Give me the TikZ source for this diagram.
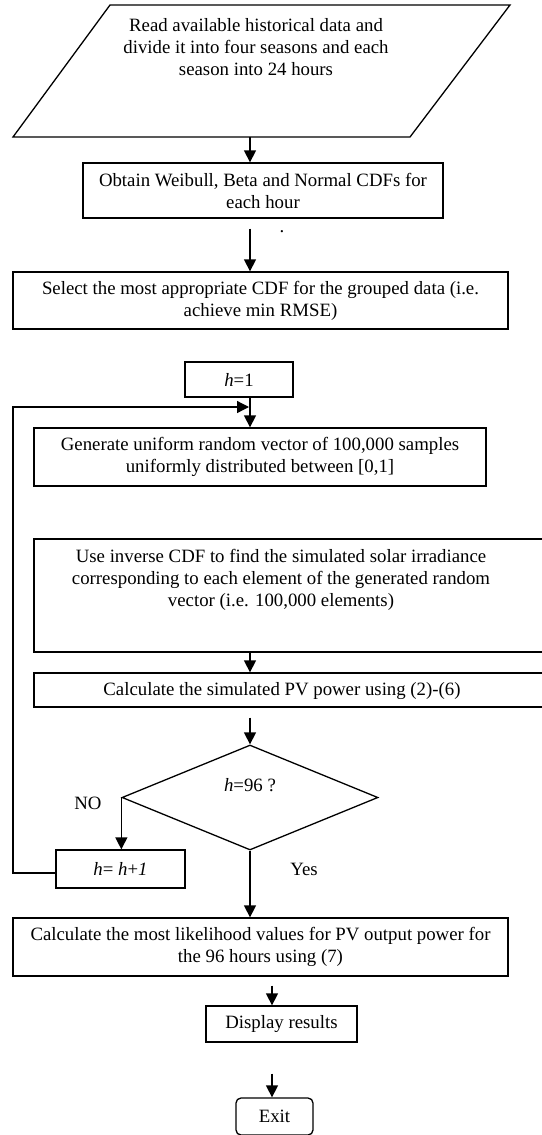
\documentclass[tikz,border=0pt]{standalone}
\usepackage{fontspec}
\setmainfont{Liberation Serif}
\usetikzlibrary{shapes.geometric,arrows.meta,calc}
\tikzset{
  txt/.style={font=\fontsize{18.8}{22}\selectfont, align=center, inner sep=0pt},
  box/.style={txt, draw, line width=1.3pt},
  arr/.style={line width=1.3pt, -{Triangle[length=12pt,width=12pt]}},
  ln/.style={line width=1.3pt}
}
\begin{document}
\begin{tikzpicture}[x=1pt,y=-1pt]
\useasboundingbox (0,0) rectangle (541,1135);
\coordinate (spine) at (250,0);
\coordinate (side) at (272,0);
% parallelogram
\coordinate (p1) at (110,5);
\coordinate (p2) at (510,5);
\coordinate (p3) at (410,137);
\coordinate (p4) at (13,137);
\draw[ln, line join=miter] (p1) -- (p2) -- (p3) -- (p4) -- cycle;
\coordinate (readbot) at (250,137);
\node[txt] (read) at (256,47) {Read available historical data and\\divide it into four seasons and each\\season into 24 hours};
% boxes
\node[box, minimum width=360pt, minimum height=55pt] (obtain) at (263,190.5) {Obtain Weibull, Beta and Normal CDFs for\\each hour};
\node[txt] (dot) at (282,232) {.};
\node[box, minimum width=495pt, minimum height=57pt] (select) at (260.5,300.5) {Select the most appropriate CDF for the grouped data (i.e.\\achieve min RMSE)};
\node[box, minimum width=108pt, minimum height=35pt] (h1) at (239,379.5) {\textit{h}=1};
\node[box, minimum width=452pt, minimum height=58pt] (gen) at (260,457) {Generate uniform random vector of 100,000 samples\\uniformly distributed between [0,1]};
\node[draw, ln, minimum width=526pt, minimum height=113pt, inner sep=0pt] (inv) at (297,595.5) {};
\node[txt] (invtxt) at (281,580) {Use inverse CDF to find the simulated solar irradiance\\corresponding to each element of the generated random\\vector (i.e. 100,000 elements)};
\node[draw, ln, minimum width=526pt, minimum height=34pt, inner sep=0pt] (calc) at (297,690) {};
\node[txt] (calctxt) at (282,691) {Calculate the simulated PV power using (2)-(6)};
\node[draw, ln, diamond, minimum width=256pt, minimum height=105pt, inner sep=0pt] (dia) at (250,797.5) {};
\node[txt] (diatxt) at (250,785) {\textit{h}=96 ?};
\node[box, minimum width=129pt, minimum height=38pt] (hh) at (120.5,869) {\textit{h}= \textit{h}+\textit{1}};
\node[txt] (no) at (88,803) {NO};
\node[txt] (yes) at (304,869) {Yes};
\node[box, minimum width=495pt, minimum height=58pt] (like) at (260.5,947) {Calculate the most likelihood values for PV output power for\\the 96 hours using (7)};
\node[box, minimum width=151pt, minimum height=36pt] (disp) at (281.5,1024) {Display results};
\node[box, rounded corners=5pt, minimum width=77pt, minimum height=37pt] (exit) at (274.5,1116.5) {Exit};
% connectors
\draw[arr] (readbot) -- (readbot |- obtain.north);
\draw[arr, shorten <=10pt] (obtain.south -| spine) -- (select.north -| spine);
\draw[arr] (h1.south -| spine) -- (gen.north -| spine);
\coordinate (lc1) at (13,873);
\coordinate (lc2) at (13,407);
\coordinate (lc3) at (249,407);
\draw[arr, line join=miter] (hh.west |- lc1) -- (lc1) -- (lc2) -- (lc3);
\draw[arr] (inv.south -| spine) -- (calc.north -| spine);
\draw[arr, shorten <=10pt] (calc.south -| spine) -- (dia.north);
\draw[arr] (dia.west) -- (dia.west |- hh.north);
\draw[arr] (dia.south) -- (like.north -| dia.south);
\draw[arr, shorten <=9pt] (like.south -| side) -- (disp.north -| side);
\draw[arr, shorten <=31pt] (disp.south -| side) -- (exit.north -| side);
\end{tikzpicture}
\end{document}
